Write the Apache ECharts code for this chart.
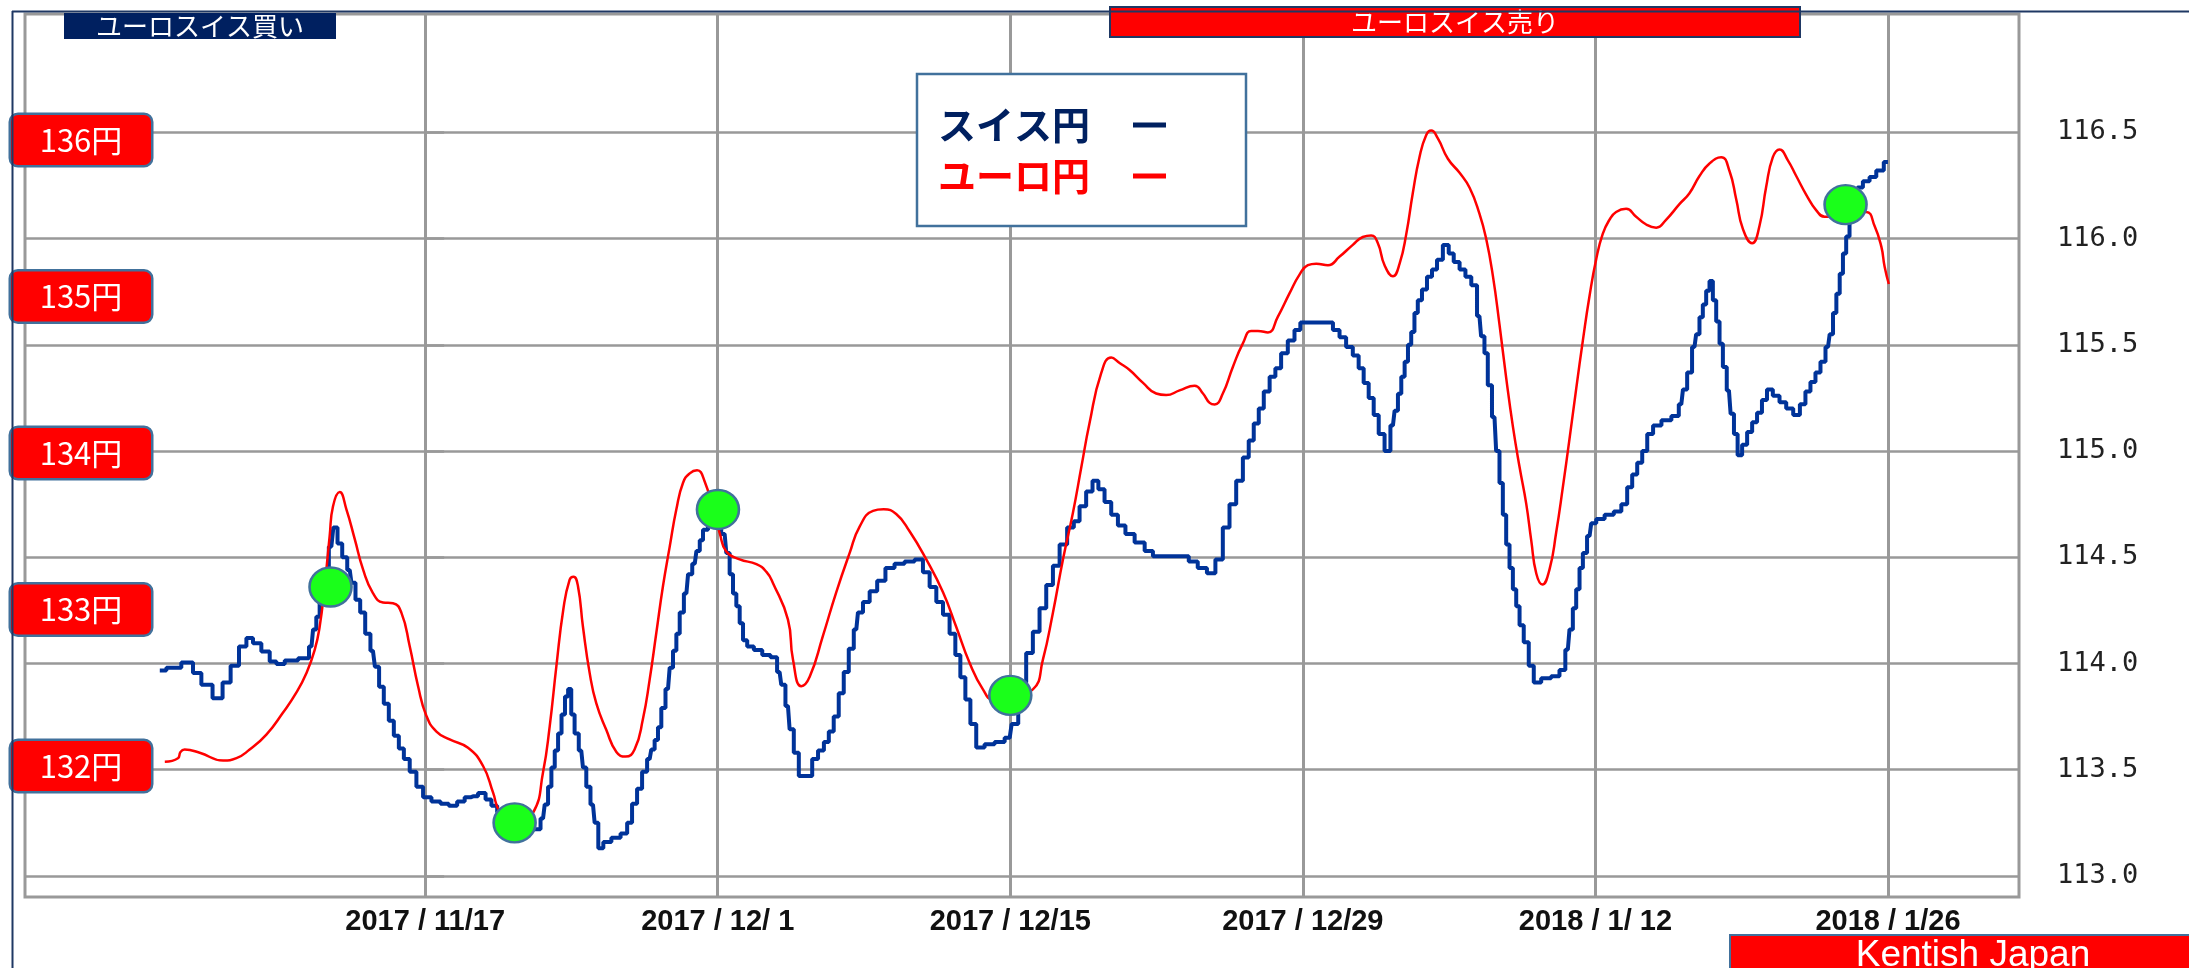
<!DOCTYPE html>
<html>
<head>
<meta charset="utf-8">
<script src="https://cdn.jsdelivr.net/npm/echarts@6/dist/echarts.min.js"></script>
<style>
html,body{margin:0;padding:0;background:#fff;}
#chart{width:2189px;height:968px;}
</style>
</head>
<body>
<div id="chart"></div>
<script>
// x values are days counted from 2017/11/17
const tickDays = [0, 14, 28, 42, 56, 70];
const tickLabels = ['2017 / 11/17', '2017 / 12/ 1', '2017 / 12/15', '2017 / 12/29', '2018 / 1/ 12', '2018 / 1/26'];
const chfTicks = [113.0, 113.5, 114.0, 114.5, 115.0, 115.5, 116.0, 116.5];
const eurTicks = [132, 133, 134, 135, 136];

// スイス円 (CHF/JPY, right axis)
const chfDays = [-12.70,-12.07,-11.27,-10.95,-10.47,-9.88,-9.51,-9.11,-8.71,-8.40,-8.08,-7.60,-7.28,-6.96,-6.48,-5.68,-5.44,-5.29,-5.13,-4.97,-4.73,-4.49,-4.30,-4.09,-3.85,-3.61,-3.45,-3.22,-3.00,-2.74,-2.50,-2.31,-2.10,-1.86,-1.62,-1.38,-1.14,-0.90,-0.58,-0.26,0.06,0.54,0.93,1.33,1.73,2.05,2.29,2.77,3.01,3.33,3.56,4.36,5.40,5.64,5.80,5.96,6.12,6.28,6.44,6.61,6.77,6.91,7.07,7.23,7.47,7.63,7.79,8.03,8.19,8.38,8.67,9.15,9.55,9.78,10.02,10.26,10.50,10.74,10.90,11.06,11.22,11.38,11.62,11.78,11.94,12.10,12.26,12.50,12.66,12.90,13.06,13.22,13.37,13.70,14.00,14.33,14.49,14.65,14.81,14.97,15.13,15.29,15.53,15.93,16.33,16.72,16.96,17.12,17.36,17.52,17.76,18.00,18.40,18.64,18.96,19.20,19.43,19.67,19.91,20.15,20.39,20.63,20.79,21.11,21.43,21.83,22.22,22.70,23.18,23.66,23.98,24.30,24.62,24.94,25.25,25.49,25.73,25.97,26.21,26.53,27.01,27.49,27.97,28.16,28.60,28.92,29.24,29.56,29.88,30.20,30.52,30.92,31.16,31.47,31.79,32.08,32.35,32.67,32.99,33.31,33.71,34.19,34.67,34.98,35.62,36.34,36.74,37.20,37.62,38.01,38.33,38.65,38.97,39.29,39.53,39.77,40.01,40.25,40.57,40.80,41.12,41.44,41.76,42.00,42.64,43.28,43.60,43.91,44.23,44.55,44.79,45.03,45.27,45.51,45.75,46.07,46.31,46.47,46.63,46.79,46.95,47.11,47.26,47.42,47.58,47.82,48.06,48.30,48.54,48.86,49.10,49.34,49.66,49.90,50.22,50.45,50.61,50.77,50.93,51.17,51.33,51.49,51.65,51.81,51.97,52.13,52.29,52.45,52.69,52.93,53.17,53.64,54.12,54.44,54.68,54.84,55.00,55.16,55.32,55.48,55.72,55.88,56.20,56.68,57.08,57.40,57.64,57.88,58.12,58.36,58.60,58.92,59.40,59.87,60.11,60.27,60.51,60.74,60.90,61.06,61.22,61.38,61.54,61.70,61.86,62.02,62.18,62.39,62.55,62.71,62.90,63.14,63.38,63.62,63.85,64.09,64.33,64.65,64.97,65.29,65.64,65.93,66.17,66.41,66.65,66.89,67.13,67.29,67.45,67.61,67.77,67.92,68.08,68.24,68.45,68.64,68.96,69.28,69.60,70.00];
const chfValues = [113.967,113.98,114.005,113.955,113.90,113.837,113.91,113.99,114.08,114.12,114.095,114.056,114.01,113.998,114.014,114.025,114.08,114.16,114.22,114.31,114.42,114.55,114.64,114.565,114.50,114.44,114.38,114.30,114.24,114.14,114.06,113.985,113.89,113.81,113.73,113.66,113.60,113.55,113.49,113.42,113.37,113.35,113.34,113.33,113.35,113.37,113.375,113.39,113.36,113.33,113.30,113.24,113.22,113.27,113.336,113.42,113.51,113.59,113.67,113.76,113.845,113.88,113.76,113.67,113.59,113.51,113.42,113.336,113.25,113.13,113.16,113.18,113.20,113.25,113.34,113.41,113.49,113.55,113.595,113.64,113.70,113.79,113.88,113.98,114.06,114.14,114.24,114.33,114.42,114.47,114.53,114.58,114.63,114.67,114.69,114.61,114.52,114.42,114.33,114.27,114.19,114.11,114.08,114.064,114.04,114.03,113.96,113.90,113.80,113.69,113.58,113.47,113.47,113.55,113.59,113.63,113.68,113.75,113.86,113.96,114.07,114.16,114.24,114.29,114.34,114.39,114.45,114.47,114.48,114.49,114.43,114.36,114.29,114.23,114.14,114.04,113.935,113.83,113.715,113.605,113.62,113.63,113.65,113.715,113.91,114.05,114.15,114.26,114.37,114.46,114.56,114.64,114.67,114.74,114.81,114.86,114.82,114.76,114.70,114.65,114.61,114.57,114.53,114.505,114.505,114.505,114.48,114.45,114.425,114.49,114.64,114.75,114.86,114.97,115.05,115.13,115.20,115.28,115.35,115.39,115.46,115.52,115.57,115.605,115.605,115.605,115.57,115.535,115.49,115.45,115.39,115.32,115.25,115.17,115.08,115.00,115.12,115.19,115.27,115.35,115.42,115.50,115.56,115.65,115.71,115.76,115.82,115.855,115.90,115.97,115.93,115.89,115.855,115.82,115.78,115.635,115.54,115.46,115.31,115.16,115.00,114.85,114.70,114.56,114.45,114.35,114.27,114.18,114.10,113.99,113.91,113.93,113.94,113.97,114.065,114.16,114.26,114.35,114.45,114.52,114.60,114.66,114.68,114.70,114.715,114.75,114.83,114.89,114.945,115.00,115.08,115.12,115.145,115.165,115.22,115.29,115.37,115.49,115.55,115.63,115.69,115.755,115.80,115.71,115.61,115.505,115.395,115.285,115.175,115.08,114.98,115.03,115.09,115.135,115.18,115.24,115.29,115.26,115.23,115.20,115.17,115.22,115.28,115.325,115.37,115.42,115.49,115.55,115.65,115.74,115.835,115.93,116.01,116.09,116.19,116.24,116.27,116.29,116.32,116.36];

// ユーロ円 (EUR/JPY, left red labels)
const eurDays = [-12.46,-11.83,-11.71,-11.51,-10.79,-9.67,-9.03,-8.40,-7.60,-6.81,-6.16,-5.68,-5.29,-5.05,-4.81,-4.57,-4.41,-4.09,-3.77,-3.37,-2.97,-2.50,-2.02,-1.54,-1.14,-0.74,-0.34,0.06,0.54,1.17,2.05,2.77,3.25,3.56,4.28,5.16,5.64,5.96,6.28,6.61,6.91,7.10,7.31,7.55,7.87,8.19,8.67,9.15,9.59,10.02,10.42,10.74,11.06,11.38,11.70,12.02,12.34,12.66,13.01,13.37,13.77,14.09,14.41,15.05,15.85,16.33,16.64,17.36,17.60,18.00,18.40,19.03,19.67,20.31,20.79,21.43,21.94,22.54,23.18,23.98,24.78,25.41,26.05,26.69,27.17,28.00,29.08,29.56,30.04,30.52,31.00,31.40,31.79,32.35,32.83,33.23,33.71,34.34,34.98,35.46,36.10,36.82,37.22,37.54,37.78,38.17,38.65,39.13,39.53,39.85,40.33,40.80,41.36,41.84,42.24,42.64,43.20,43.76,44.39,44.87,45.27,45.59,45.91,46.31,46.63,46.95,47.26,47.58,47.90,48.14,48.46,48.94,49.50,49.98,50.45,50.77,51.09,51.41,51.73,52.05,52.37,52.69,52.93,53.17,53.46,53.81,54.12,54.44,54.76,55.08,55.40,55.72,56.04,56.35,56.67,56.99,57.47,57.95,58.43,58.91,59.38,60.02,60.50,60.98,61.46,62.02,62.42,62.74,63.06,63.50,63.85,64.17,64.49,64.81,65.21,65.61,66.09,66.57,66.97,67.53,68.20,68.96,69.36,69.68,69.84,70.04];
const eurValues = [132.027,132.05,132.09,132.105,132.085,132.035,132.05,132.105,132.20,132.34,132.47,132.595,132.74,132.89,133.15,133.47,133.66,133.75,133.64,133.45,133.255,133.105,133.045,133.04,132.98,132.765,132.51,132.32,132.22,132.17,132.116,132.0,131.83,131.71,131.62,131.70,131.96,132.255,132.64,133.0,133.19,133.21,133.15,132.89,132.595,132.40,132.23,132.09,132.06,132.105,132.30,132.55,132.85,133.15,133.40,133.64,133.81,133.87,133.89,133.82,133.64,133.49,133.37,133.32,133.29,133.24,133.17,132.935,132.68,132.51,132.57,132.83,133.11,133.36,133.53,133.63,133.64,133.61,133.50,133.32,133.11,132.89,132.66,132.49,132.425,132.45,132.49,132.68,132.98,133.32,133.62,133.91,134.19,134.51,134.61,134.575,134.53,134.45,134.38,134.37,134.40,134.43,134.38,134.32,134.31,134.38,134.55,134.70,134.78,134.78,134.77,134.87,135.02,135.14,135.20,135.21,135.20,135.255,135.33,135.38,135.39,135.34,135.20,135.13,135.21,135.40,135.66,135.89,136.03,136.06,136.01,135.88,135.79,135.695,135.53,135.37,135.135,134.82,134.48,134.17,133.91,133.675,133.44,133.23,133.16,133.26,133.49,133.78,134.09,134.41,134.72,135.005,135.24,135.40,135.49,135.54,135.56,135.51,135.46,135.44,135.49,135.59,135.66,135.77,135.85,135.89,135.80,135.62,135.43,135.34,135.45,135.70,135.89,135.94,135.87,135.77,135.65,135.55,135.51,135.51,135.54,135.54,135.45,135.32,135.19,135.08];

// signal markers (on スイス円 scale)
const signalDays = [-4.53, 4.28, 14.01, 28.0, 67.97];
const signalValues = [114.36, 113.25, 114.725, 113.85, 116.16];

const zip = (a, b) => a.map((d, i) => [d, b[i]]);
const JP = "'Noto Sans CJK JP', sans-serif";

const chart = echarts.init(document.getElementById('chart'), null, {renderer: 'canvas'});
chart.setOption({
  animation: false,
  backgroundColor: '#fff',
  title: [
    {text: '{a|ユーロスイス買い}', left: 64, top: 13, padding: 0,
     textStyle: {fontWeight: 'normal', rich: {a: {width: 272, height: 26, lineHeight: 26, align: 'center', backgroundColor: '#002060', color: '#fff', fontSize: 26, fontWeight: 'normal', fontFamily: JP}}}},
    {text: '{a|ユーロスイス売り}', left: 1111, top: 8, padding: 0,
     textStyle: {fontWeight: 'normal', rich: {a: {width: 688, height: 28, lineHeight: 28, align: 'center', backgroundColor: '#ff0000', borderColor: '#1f3864', borderWidth: 2, color: '#fff', fontSize: 26, fontWeight: 'normal', fontFamily: JP}}}},
    {text: '{a|Kentish Japan}', left: 1731, top: 936, padding: 0,
     textStyle: {fontWeight: 'normal', rich: {a: {width: 456, height: 40, lineHeight: 40, align: 'center', backgroundColor: '#ff0000', borderColor: '#41719c', borderWidth: 2, color: '#fff', fontSize: 37, fontWeight: 'normal', fontFamily: "'Liberation Sans', sans-serif", padding: [0, 0, 0, 14]}}}}
  ],
  graphic: [
    {type: 'line', shape: {x1: 12, y1: 11.5, x2: 2189, y2: 11.5}, style: {stroke: '#1f3864', lineWidth: 2}, z: 100},
    {type: 'line', shape: {x1: 12.5, y1: 11, x2: 12.5, y2: 968}, style: {stroke: '#1f3864', lineWidth: 2}, z: 100}
  ],
  legend: {
    orient: 'vertical', left: 917, top: 74, padding: [31, 80, 30, 21],
    borderColor: '#41719c', borderWidth: 2.5, backgroundColor: '#fff',
    align: 'right', itemWidth: 33, itemHeight: 5, itemGap: 11, icon: 'rect',
    formatter: name => name + '\u3000',
    textStyle: {fontSize: 38, fontWeight: 'bold', fontFamily: JP, lineHeight: 40},
    data: [
      {name: 'スイス円', itemStyle: {color: '#002060'}, textStyle: {color: '#002060'}},
      {name: 'ユーロ円', itemStyle: {color: '#ff0000'}, textStyle: {color: '#ff0000'}}
    ]
  },
  grid: {left: 25, right: 170, top: 14, bottom: 71, show: true, borderColor: '#999', borderWidth: 3, backgroundColor: '#fff'},
  xAxis: {
    type: 'value', min: -19.15, max: 76.27,
    axisLine: {show: false},
    axisTick: {show: false, customValues: tickDays},
    splitLine: {show: true, lineStyle: {color: '#999', width: 3}},
    axisLabel: {customValues: tickDays, margin: 10, color: '#111', fontSize: 29, fontWeight: 'bold',
      fontFamily: "'Liberation Sans Narrow', 'Liberation Sans', sans-serif",
      formatter: v => tickLabels[tickDays.indexOf(Math.round(v))] || ''}
  },
  yAxis: [
    {
      type: 'value', position: 'right', min: 112.901, max: 117.057,
      axisLine: {show: false},
      axisTick: {show: true, length: 19, lineStyle: {color: '#999', width: 2.5}, customValues: chfTicks},
      splitLine: {show: true, lineStyle: {color: '#999', width: 2.5}},
      axisLabel: {customValues: chfTicks, margin: 38, color: '#222', fontSize: 27,
        fontFamily: "'DejaVu Sans Mono', monospace", formatter: v => v.toFixed(1)}
    },
    {
      type: 'value', position: 'left', min: 131.163, max: 136.805,
      axisLine: {show: false}, axisTick: {show: false, customValues: eurTicks}, splitLine: {show: false},
      axisLabel: {inside: true, margin: -14, customValues: eurTicks,
        formatter: v => '{b|' + v + '円}',
        rich: {b: {width: 140, height: 50, lineHeight: 50, align: 'center', backgroundColor: '#ff0000',
          borderColor: '#41719c', borderWidth: 2.5, borderRadius: 7, color: '#fff', fontSize: 31, fontFamily: JP}}}
    }
  ],
  series: [
    {name: 'スイス円', type: 'line', yAxisIndex: 0, step: 'middle', showSymbol: false, symbol: 'none',
     color: '#003399', lineStyle: {color: '#003399', width: 4}, data: zip(chfDays, chfValues), z: 3},
    {name: 'ユーロ円', type: 'line', yAxisIndex: 1, smooth: 0.5, showSymbol: false, symbol: 'none',
     color: '#ff0000', lineStyle: {color: '#ff0000', width: 2.5}, data: zip(eurDays, eurValues), z: 4},
    {name: 'signal', type: 'scatter', yAxisIndex: 0, symbol: 'circle', symbolSize: [42, 39],
     itemStyle: {color: '#1aff1a', borderColor: '#41719c', borderWidth: 2.5, opacity: 1},
     data: zip(signalDays, signalValues), z: 5}
  ]
});
</script>
</body>
</html>
